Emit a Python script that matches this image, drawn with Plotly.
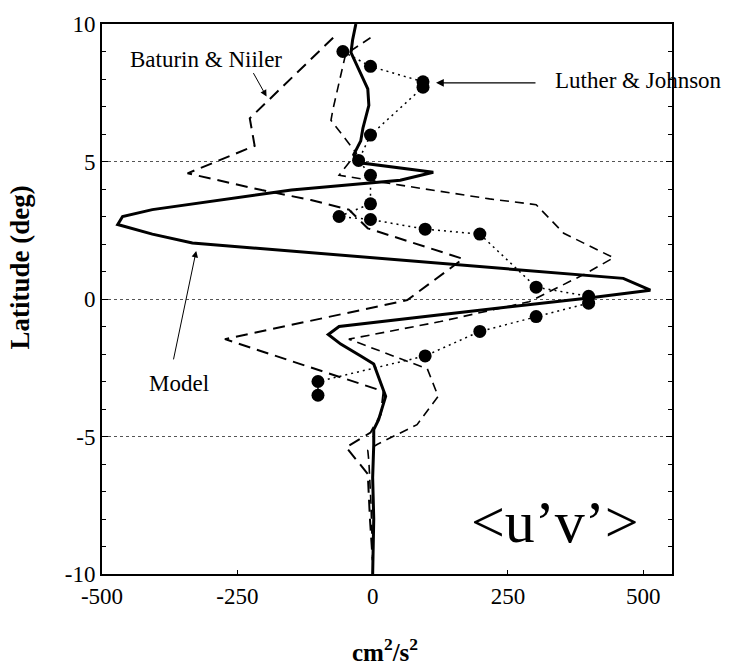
import plotly.graph_objects as go

# Model (solid)
model_lat = [10, 9.43, 8.96, 7.64, 7.04, 6.21, 5.75, 5.25, 4.96, 4.61, 4.32, 3.96, 3.25, 3.0, 2.71,
             2.36, 2.04, 0.75, 0.32, 0.04, -0.57, -1.0, -1.29, -1.64, -2.07, -2.36, -3.54, -4.39,
             -4.75, -5.3, -6.5, -8.0, -10]
model_val = [-31, -37, -40, -9, -7, -18, -22, -35, -27, 112, 51, -150, -407, -462, -471,
             -407, -333, 463, 513, 399, 125, -62, -82, -59, -22, 2, 24, 11,
             2, 2, 0, 2, 0]

# Baturin & Niiler (long dashed)
bn_lat = [9.5, 6.57, 5.57, 4.57, 3.96, 3.6, 3.25, 2.57, 1.46, -0.04, -1.46, -3.36, -4.2,
          -4.86, -5.39, -6.36, -8.0, -9.5]
bn_val = [-73, -227, -218, -342, -205, -114, -44, -9, 167, 64, -273, 20, 15,
          -4, -49, -9, -5, 0]

# Second dashed profile
dn_lat = [9.5, 8.9, 6.93, 6.5, 5.3, 4.5, 4.14, 3.64, 3.43, 2.39, 1.5, 0.93, -0.1, -0.82,
          -1.46, -2.54, -3.54, -4.57, -5.28, -5.5, -5.9, -7.5, -9.5]
dn_val = [-4, -50, -73, -77, -30, -62, 51, 216, 302, 353, 445, 394, 289, 125,
          -44, 101, 121, 82, 9, -9, -7, -3, 0]

# Luther & Johnson (dots, dotted connection)
lj_lat = [9.0, 8.46, 7.9, 7.7, 5.96, 5.04, 4.5, 3.46, 3.0, 2.89, 2.54, 2.36, 0.43, 0.1,
          -0.15, -0.64, -1.18, -2.07, -3.0, -3.5]
lj_val = [-55, -4, 93, 93, -4, -26, -4, -4, -62, -4, 97, 198, 302, 399,
          399, 302, 198, 97, -101, -101]

x_ticks = [-500, -250, 0, 250, 500]
y_ticks = [-10, -5, 0, 5, 10]

FONT = "Liberation Serif, Times New Roman, serif"

fig = go.Figure()
fig.add_trace(go.Scatter(x=bn_val, y=bn_lat, mode="lines",
                         line=dict(color="black", width=2, dash="12px,7px"), showlegend=False))
fig.add_trace(go.Scatter(x=dn_val, y=dn_lat, mode="lines",
                         line=dict(color="black", width=1.6, dash="9px,6px"), showlegend=False))
fig.add_trace(go.Scatter(x=lj_val, y=lj_lat, mode="lines+markers",
                         line=dict(color="black", width=1.5, dash="2px,4px"),
                         marker=dict(color="black", size=13), showlegend=False))
fig.add_trace(go.Scatter(x=model_val, y=model_lat, mode="lines",
                         line=dict(color="black", width=3), showlegend=False))

annotations = [
    dict(x=-307, y=8.71, xref="x", yref="y", text="Baturin & Niiler", showarrow=False,
         xanchor="center", yanchor="middle", font=dict(family=FONT, size=23, color="black")),
    dict(x=-196, y=7.36, xref="x", yref="y", text="", showarrow=True, ax=-14, ay=-25,
         arrowhead=2, arrowsize=1.3, arrowwidth=1, arrowcolor="black"),
    dict(x=333, y=7.93, xref="x", yref="y", text="Luther & Johnson", showarrow=False,
         xanchor="left", yanchor="middle", font=dict(family=FONT, size=23, color="black")),
    dict(x=117, y=7.86, xref="x", yref="y", text="", showarrow=True, ax=101, ay=0,
         arrowhead=2, arrowsize=1.3, arrowwidth=1.2, arrowcolor="black"),
    dict(x=-357, y=-3.07, xref="x", yref="y", text="Model", showarrow=False,
         xanchor="center", yanchor="middle", font=dict(family=FONT, size=23, color="black")),
    dict(x=-326, y=1.75, xref="x", yref="y", text="", showarrow=True, ax=-23, ay=110,
         arrowhead=2, arrowsize=1.3, arrowwidth=1, arrowcolor="black"),
    dict(x=337, y=-8.1, xref="x", yref="y", text="<u’v’>", showarrow=False,
         xanchor="center", yanchor="middle", font=dict(family=FONT, size=60, color="black")),
    dict(x=-0.144, y=0.557, xref="paper", yref="paper", text="<b>Latitude (deg)</b>",
         xanchor="center", yanchor="middle",
         showarrow=False, textangle=-90, font=dict(family=FONT, size=27, color="black")),
    dict(x=0.496, y=-0.139, xref="paper", yref="paper", text="<b>cm<sup>2</sup>/s<sup>2</sup></b>",
         xanchor="center", yanchor="middle",
         showarrow=False, font=dict(family=FONT, size=25, color="black")),
]

fig.update_layout(
    width=735, height=667,
    margin=dict(l=102, r=63, t=14, b=93),
    paper_bgcolor="white", plot_bgcolor="white",
    annotations=annotations,
    font=dict(family=FONT, color="black"),
)
fig.update_xaxes(range=[-500, 553], tickvals=x_ticks, ticktext=[str(v) for v in x_ticks],
                 showgrid=False, zeroline=False, showline=True, linecolor="black", linewidth=2,
                 mirror=True, ticks="inside", ticklen=4, tickcolor="black",
                 tickfont=dict(family=FONT, size=23, color="black"))
fig.update_yaxes(range=[-10, 10], tickvals=y_ticks, ticktext=[str(v) for v in y_ticks],
                 showgrid=True, gridcolor="#555555", griddash="dot", gridwidth=1,
                 zeroline=False, showline=True, linecolor="black", linewidth=2,
                 mirror="allticks", ticks="inside", ticklen=6, tickcolor="black",
                 minor=dict(dtick=1, ticks="inside", ticklen=4, tickcolor="black", showgrid=False),
                 tickfont=dict(family=FONT, size=23, color="black"))

fig.write_html("out.html")
